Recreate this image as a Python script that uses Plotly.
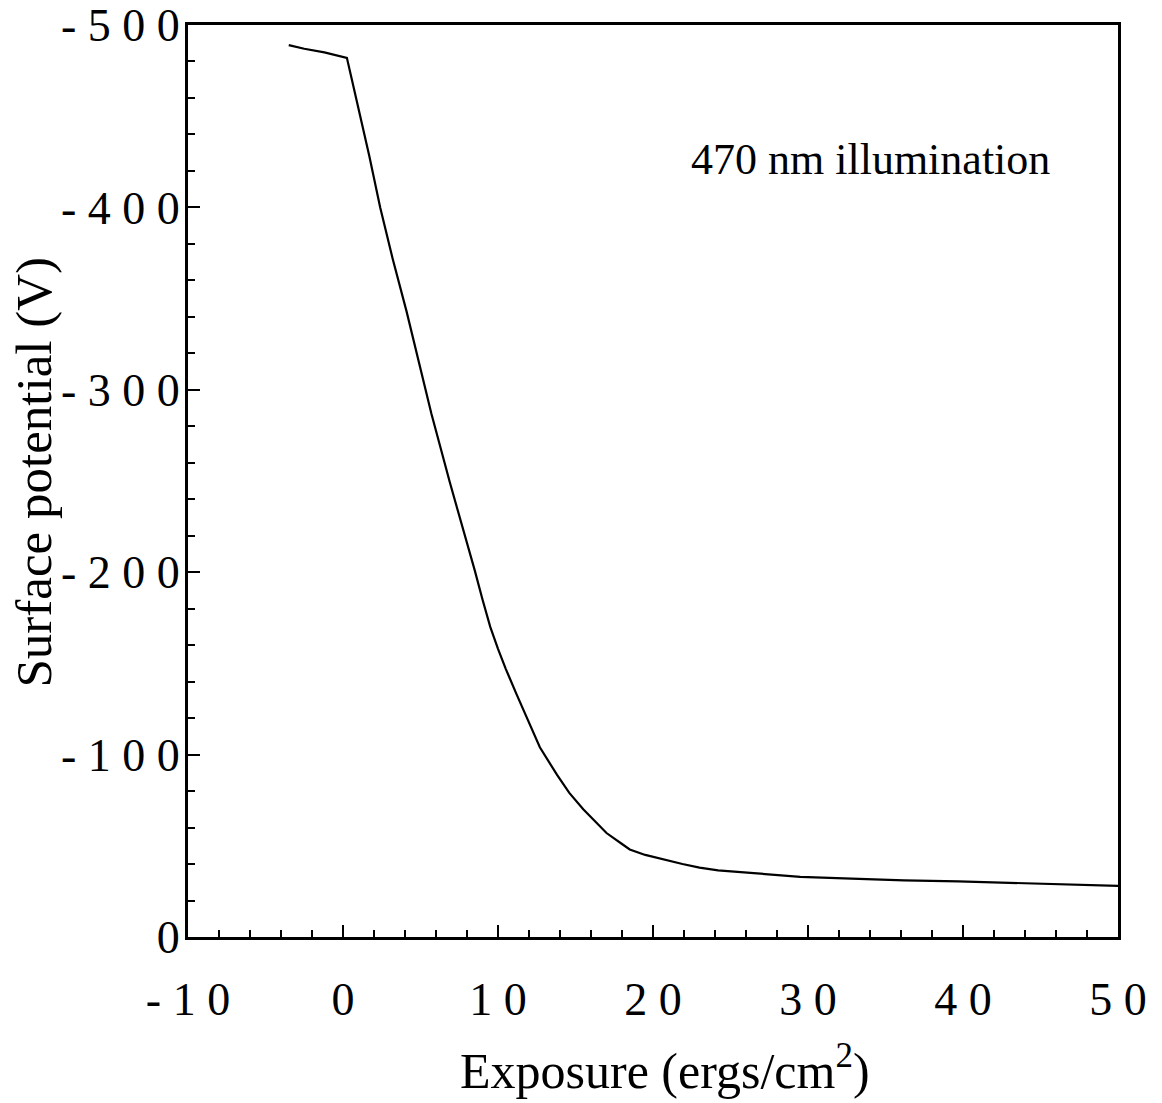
import plotly.graph_objects as go

# Data
exposure = [-3.5, -2.5, -1.2, 0.25, 0.6, 1.1, 1.7, 2.4, 3.2, 4.1, 5.0, 5.7,
            6.9, 8.0, 8.5, 9.0, 9.5, 10.0, 10.5, 11.2, 12.0, 12.7, 13.8, 14.6, 15.5,
            16.3, 17.0, 18.0, 18.5, 19.5, 20.4, 21.9, 23.0, 24.2, 26.5,
            29.5, 32.8, 36.2, 39.7, 43.9, 47.5, 50.0]
potential = [-489, -487, -485, -482, -469, -451, -428, -400, -372, -343, -312, -287,
             -249, -217, -201, -185, -170, -158, -147, -133, -117, -104, -89, -79, -70,
             -63, -57, -51, -48, -45, -43, -40, -38, -36.5, -35,
             -33, -32, -31, -30.5, -29.5, -28.5, -28]

x_tickvals = [-10, 0, 10, 20, 30, 40, 50]
x_ticktext = ["- 1 0", "0", "1 0", "2 0", "3 0", "4 0", "5 0"]
y_tickvals = [-500, -400, -300, -200, -100, 0]
y_ticktext = ["- 5 0 0", "- 4 0 0", "- 3 0 0", "- 2 0 0", "- 1 0 0", "0"]

FONT = "Liberation Serif"

fig = go.Figure()
fig.add_trace(go.Scatter(x=exposure, y=potential, mode="lines",
                         line=dict(color="black", width=2.2), showlegend=False))

fig.add_annotation(x=34.06, y=-426, text="470 nm illumination", showarrow=False,
                   font=dict(family=FONT, size=44, color="black"))

# Axis titles placed as paper-referenced annotations
fig.add_annotation(xref="paper", yref="paper", x=0.513, y=-0.143,
                   text="Exposure (ergs/cm<sup>2</sup>)", showarrow=False,
                   xanchor="center", yanchor="middle",
                   font=dict(family=FONT, size=50, color="black"))
fig.add_annotation(xref="paper", yref="paper", x=-0.166, y=0.51,
                   text="Surface potential (V)", showarrow=False, textangle=-90,
                   xanchor="center", yanchor="middle",
                   font=dict(family=FONT, size=51, color="black"))

fig.update_layout(
    width=1154, height=1095,
    margin=dict(l=180, r=44, t=17, b=166),
    paper_bgcolor="white", plot_bgcolor="white",
    font=dict(family=FONT, color="black"),
)

fig.update_xaxes(
    range=[-10, 50], showgrid=False, zeroline=False, automargin=False,
    showline=True, linecolor="black", linewidth=3, mirror=True,
    tickvals=x_tickvals, ticktext=x_ticktext,
    ticks="inside", ticklen=12, tickwidth=2, tickcolor="black",
    minor=dict(dtick=2, ticks="inside", ticklen=7, tickwidth=2, tickcolor="black"),
    tickfont=dict(family=FONT, size=46, color="black"),
    ticklabelstandoff=20, ticklabeloverflow="allow",
)

fig.update_yaxes(
    range=[0, -500], showgrid=False, zeroline=False, automargin=False,
    showline=True, linecolor="black", linewidth=3, mirror=True,
    tickvals=y_tickvals, ticktext=y_ticktext,
    ticks="inside", ticklen=12, tickwidth=2, tickcolor="black",
    minor=dict(dtick=20, ticks="inside", ticklen=7, tickwidth=2, tickcolor="black"),
    tickfont=dict(family=FONT, size=46, color="black"),
    ticklabelstandoff=-4, ticklabeloverflow="allow",
)

fig.write_html("out.html")
